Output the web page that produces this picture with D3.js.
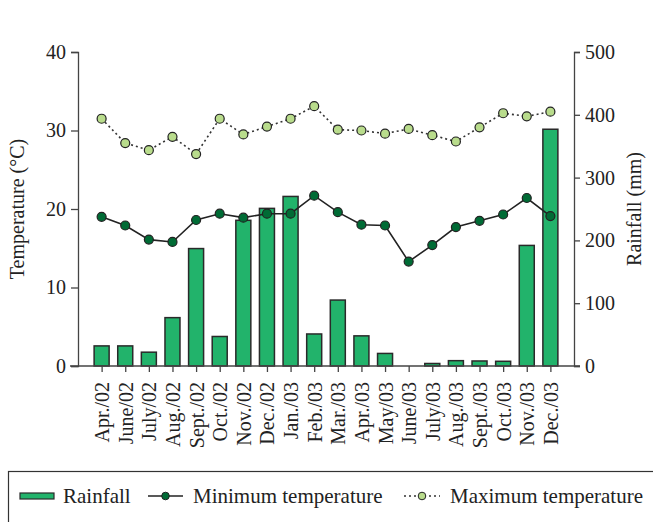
<!DOCTYPE html>
<html>
<meta charset="utf-8" />
<script src="https://d3js.org/d3.v7.min.js"></script>
<style>
  body { margin: 0; background: #fff; }
  text { font-family: "Liberation Serif", serif; fill: #222; }
</style>
<body>
<svg id="chart" width="653" height="522"></svg>
<script>
// Data
var months = ["Apr./02", "June/02", "July/02", "Aug./02", "Sept./02", "Oct./02", "Nov./02", "Dec./02",
  "Jan./03", "Feb./03", "Mar./03", "Apr./03", "May/03", "June/03", "July/03", "Aug./03",
  "Sept./03", "Oct./03", "Nov./03", "Dec./03"]
var rainfall = [32, 32, 22, 77, 187, 47, 232, 251, 270, 51, 105, 48, 20, 0, 4, 8.5, 8, 7.5, 192, 377]
var minTemp = [19.0, 17.9, 16.1, 15.8, 18.6, 19.4, 18.9, 19.4, 19.4, 21.7, 19.6, 18.0, 17.9, 13.3, 15.4, 17.7, 18.5, 19.3, 21.4, 19.1]
var maxTemp = [31.5, 28.4, 27.5, 29.2, 27.0, 31.5, 29.5, 30.5, 31.5, 33.1, 30.1, 30.0, 29.6, 30.2, 29.4, 28.6, 30.4, 32.2, 31.8, 32.4]
var tempTicks = [0, 10, 20, 30, 40]
var rainTicks = [0, 100, 200, 300, 400, 500]

var svg = d3.select("#chart")
var mLeft = 78, mRight = 574, mTop = 52, mBottom = 366

var x = d3.scalePoint().domain(months).range([mLeft, mRight]).padding(1)
var yT = d3.scaleLinear().domain([0, 40]).range([mBottom, mTop])
var yR = d3.scaleLinear().domain([0, 500]).range([mBottom, mTop])

var barW = 15
var green = "#22b36b", dark = "#006b35", light = "#b9dc8c"

// bars
svg.append("g").selectAll("rect")
  .data(rainfall)
  .enter().append("rect")
  .attr("x", (d, i) => x(months[i]) - barW / 2)
  .attr("y", d => yR(d))
  .attr("width", barW)
  .attr("height", d => mBottom - yR(d))
  .attr("fill", green)
  .attr("stroke", "#2a2a2a")
  .attr("stroke-width", 1.5)
  .style("display", d => d > 0 ? null : "none")

// axes
function styleAxis(g) {
  g.selectAll("path, line").attr("stroke", "#444").attr("stroke-width", 1.3)
  g.selectAll("text").style("font-family", "Liberation Serif").style("fill", "#222")
}
svg.append("g").attr("transform", "translate(" + mLeft + ",0)")
  .call(d3.axisLeft(yT).tickValues(tempTicks).tickSizeOuter(0).tickSize(7).tickPadding(5))
  .call(styleAxis)
  .selectAll("text").style("font-size", "20px")
svg.append("g").attr("transform", "translate(" + mRight + ",0)")
  .call(d3.axisRight(yR).tickValues(rainTicks).tickSizeOuter(0).tickSize(6).tickPadding(5))
  .call(styleAxis)
  .selectAll("text").style("font-size", "20px")
var xa = svg.append("g").attr("transform", "translate(0," + mBottom + ")")
  .call(d3.axisBottom(x).tickSizeOuter(0).tickSize(6))
  .call(styleAxis)
xa.select(".domain").attr("d", "M" + (mLeft - 8) + ",0H" + (mRight + 6))
xa.selectAll("text")
  .style("font-size", "20px")
  .attr("text-anchor", "end")
  .attr("transform", "rotate(-90)")
  .attr("x", -16).attr("y", 0).attr("dy", "0.35em")

// lines
var lineT = d3.line().x((d, i) => x(months[i])).y(d => yT(d))
svg.append("path").datum(maxTemp).attr("d", lineT)
  .attr("fill", "none").attr("stroke", "#333").attr("stroke-width", 1.6).attr("stroke-dasharray", "2,3")
svg.append("path").datum(minTemp).attr("d", lineT)
  .attr("fill", "none").attr("stroke", "#222").attr("stroke-width", 1.6)

svg.append("g").selectAll("circle").data(maxTemp).enter().append("circle")
  .attr("cx", (d, i) => x(months[i])).attr("cy", d => yT(d)).attr("r", 4.5)
  .attr("fill", light).attr("stroke", "#222").attr("stroke-width", 1.2)
svg.append("g").selectAll("circle").data(minTemp).enter().append("circle")
  .attr("cx", (d, i) => x(months[i])).attr("cy", d => yT(d)).attr("r", 4.5)
  .attr("fill", dark).attr("stroke", "#222").attr("stroke-width", 1.2)

// axis titles
svg.append("text").attr("transform", "translate(24," + (mTop + mBottom) / 2 + ") rotate(-90)")
  .attr("text-anchor", "middle").style("font-size", "20px").text("Temperature (°C)")
svg.append("text").attr("transform", "translate(641," + (mTop + mBottom) / 2 + ") rotate(-90)")
  .attr("text-anchor", "middle").style("font-size", "20px").text("Rainfall (mm)")

// legend
var lg = svg.append("g")
lg.append("rect").attr("x", 8.5).attr("y", 471.5).attr("width", 700).attr("height", 80)
  .attr("fill", "none").attr("stroke", "#333").attr("stroke-width", 1.2)
var ly = 496
lg.append("rect").attr("x", 20).attr("y", ly - 3).attr("width", 34).attr("height", 6)
  .attr("fill", green).attr("stroke", "#2a2a2a").attr("stroke-width", 1.2)
lg.append("text").attr("x", 63).attr("y", ly).attr("dy", "0.35em").style("font-size", "21px").text("Rainfall")
lg.append("line").attr("x1", 148).attr("x2", 183).attr("y1", ly).attr("y2", ly)
  .attr("stroke", "#222").attr("stroke-width", 1.6)
lg.append("circle").attr("cx", 165.5).attr("cy", ly).attr("r", 3.8)
  .attr("fill", dark).attr("stroke", "#222").attr("stroke-width", 1)
lg.append("text").attr("x", 193).attr("y", ly).attr("dy", "0.35em").style("font-size", "21px").text("Minimum temperature")
lg.append("line").attr("x1", 404).attr("x2", 440).attr("y1", ly).attr("y2", ly)
  .attr("stroke", "#333").attr("stroke-width", 1.6).attr("stroke-dasharray", "2,3")
lg.append("circle").attr("cx", 422).attr("cy", ly).attr("r", 3.8)
  .attr("fill", light).attr("stroke", "#222").attr("stroke-width", 1)
lg.append("text").attr("x", 450).attr("y", ly).attr("dy", "0.35em").style("font-size", "21px").text("Maximum temperature")
</script>
</body>
</html>
